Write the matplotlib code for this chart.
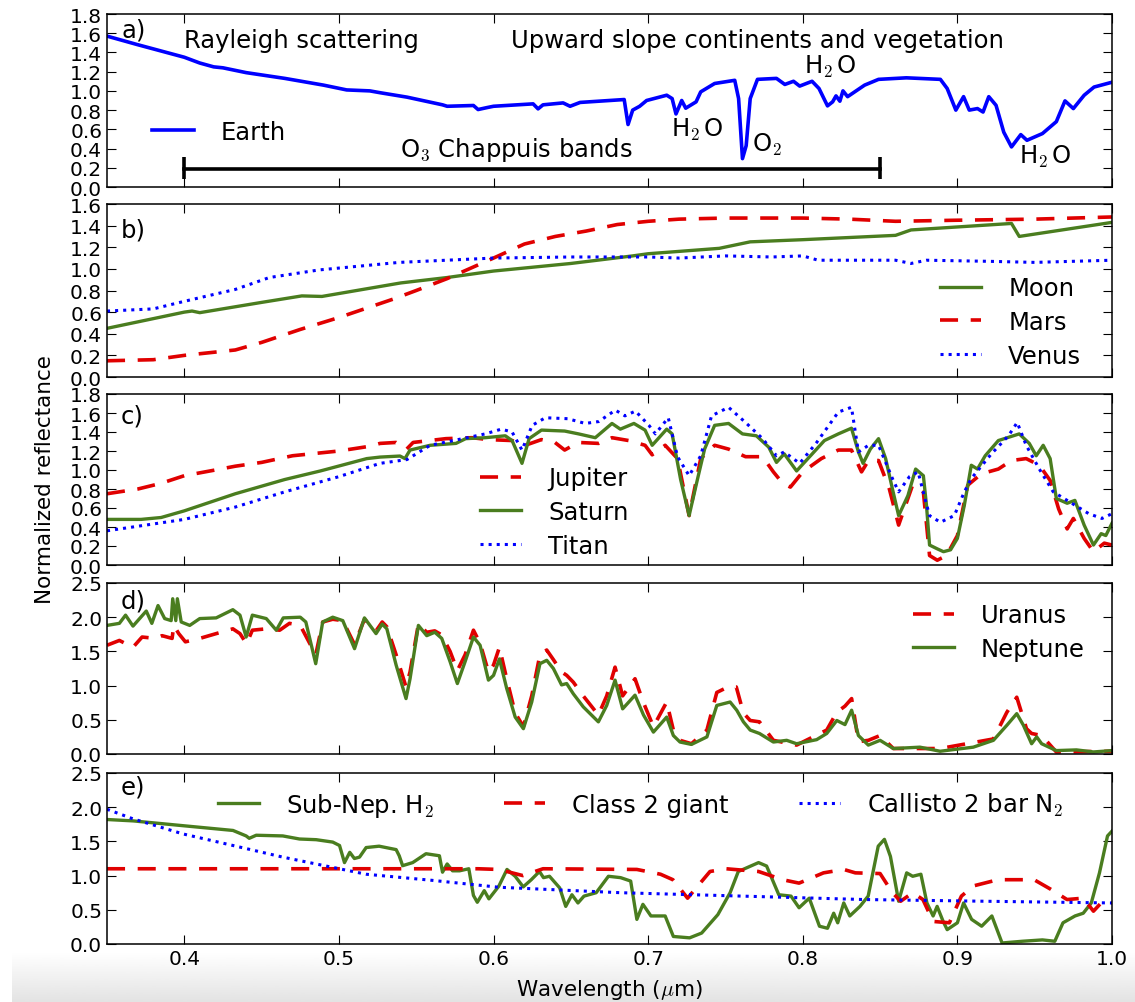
import matplotlib
matplotlib.use('Agg')
import matplotlib.pyplot as plt
import numpy as np

plt.rcParams['font.family'] = ['DejaVu Sans']
plt.rcParams['mathtext.fontset'] = 'cm'
plt.rcParams['xtick.direction'] = 'in'
plt.rcParams['ytick.direction'] = 'in'
plt.rcParams['xtick.top'] = True
plt.rcParams['ytick.right'] = True
plt.rcParams['xtick.major.size'] = 6.5
plt.rcParams['ytick.major.size'] = 6.5
plt.rcParams['xtick.labelsize'] = 14.5
plt.rcParams['ytick.labelsize'] = 14.5
plt.rcParams['axes.linewidth'] = 1.1

BLUE = '#0000ff'
RED = '#e00000'
GREEN = '#4a7d1f'
TXT = 17.5

# ---- a) Earth ----
wl_earth = [0.35, 0.37, 0.40, 0.41, 0.419, 0.425, 0.44, 0.465, 0.49, 0.505, 0.52, 0.527,
            0.544, 0.567, 0.570, 0.587, 0.590, 0.596, 0.600, 0.6256, 0.6288, 0.632, 0.645,
            0.6495, 0.656, 0.6845, 0.687, 0.690, 0.6945, 0.699, 0.712, 0.7155, 0.718,
            0.7217, 0.7243, 0.731, 0.734, 0.743, 0.756, 0.7585, 0.761, 0.7634, 0.766,
            0.7707, 0.783, 0.7884, 0.794, 0.798, 0.806, 0.8105, 0.816, 0.8193, 0.8215,
            0.824, 0.826, 0.829, 0.840, 0.849, 0.867, 0.889, 0.8934, 0.899, 0.904, 0.9077,
            0.913, 0.9166, 0.9203, 0.925, 0.930, 0.935, 0.941, 0.945, 0.955, 0.964, 0.9696,
            0.975, 0.982, 0.9884, 1.0]
refl_earth = [1.57, 1.48, 1.35, 1.29, 1.25, 1.24, 1.19, 1.13, 1.06, 1.01, 1.00, 0.98,
              0.935, 0.855, 0.84, 0.848, 0.806, 0.827, 0.84, 0.865, 0.813, 0.855, 0.875,
              0.84, 0.88, 0.91, 0.65, 0.80, 0.84, 0.90, 0.955, 0.92, 0.76,
              0.90, 0.82, 0.886, 0.99, 1.077, 1.11, 0.92, 0.295, 0.43, 0.92,
              1.12, 1.13, 1.067, 1.10, 1.05, 1.10, 1.025, 0.844, 0.886, 0.948,
              0.893, 1.0, 0.94, 1.06, 1.12, 1.136, 1.12, 1.025, 0.80, 0.94, 0.80,
              0.816, 0.78, 0.94, 0.85, 0.57, 0.417, 0.545, 0.486, 0.556, 0.68, 0.896,
              0.816, 0.955, 1.04, 1.09]
chappuis_range = [0.40, 0.85]
chappuis_level = 0.19

# ---- b) Moon, Mars, Venus ----
wl_moon = [0.35, 0.40, 0.405, 0.41, 0.45, 0.476, 0.489, 0.54, 0.57, 0.60, 0.65, 0.69,
           0.70, 0.746, 0.766, 0.80, 0.86, 0.87, 0.935, 0.94, 1.0]
refl_moon = [0.45, 0.60, 0.61, 0.595, 0.69, 0.75, 0.745, 0.87, 0.92, 0.98, 1.05, 1.12,
             1.14, 1.19, 1.25, 1.27, 1.31, 1.36, 1.42, 1.30, 1.43]
wl_mars = [0.35, 0.38, 0.40, 0.433, 0.45, 0.475, 0.50, 0.535, 0.55, 0.57, 0.60, 0.62,
           0.64, 0.66, 0.68, 0.70, 0.72, 0.75, 0.80, 0.83, 0.86, 0.90, 0.95, 1.0]
refl_mars = [0.15, 0.16, 0.20, 0.25, 0.32, 0.44, 0.55, 0.72, 0.80, 0.91, 1.10, 1.23,
             1.30, 1.35, 1.41, 1.44, 1.46, 1.47, 1.47, 1.46, 1.44, 1.45, 1.46, 1.48]
wl_venus = [0.35, 0.38, 0.40, 0.433, 0.455, 0.487, 0.539, 0.60, 0.65, 0.70, 0.72, 0.75,
            0.78, 0.80, 0.81, 0.84, 0.86, 0.87, 0.88, 0.92, 0.95, 1.0]
refl_venus = [0.61, 0.63, 0.70, 0.81, 0.92, 0.99, 1.06, 1.10, 1.11, 1.11, 1.10, 1.12,
              1.11, 1.12, 1.08, 1.08, 1.08, 1.05, 1.08, 1.07, 1.06, 1.08]

# ---- c) Jupiter, Saturn, Titan ----
wl_jupiter = [0.35, 0.37, 0.385, 0.40, 0.42, 0.433, 0.45, 0.47, 0.50, 0.52, 0.5266, 0.537,
              0.5438, 0.548, 0.5692, 0.586, 0.5967, 0.612, 0.6205, 0.631, 0.6397, 0.646,
              0.6548, 0.668, 0.6766, 0.6874, 0.698, 0.7026, 0.711, 0.719, 0.7265, 0.734,
              0.743, 0.752, 0.763, 0.774, 0.781, 0.787, 0.792, 0.800, 0.812, 0.823, 0.8315,
              0.838, 0.8425, 0.849, 0.856, 0.862, 0.871, 0.878, 0.882, 0.887, 0.893, 0.900,
              0.9067, 0.9155, 0.9265, 0.935, 0.9445, 0.953, 0.960, 0.9655, 0.971, 0.975,
              0.982, 0.988, 0.995, 1.0]
refl_jupiter = [0.75, 0.80, 0.86, 0.94, 1.00, 1.04, 1.08, 1.15, 1.20, 1.25, 1.28, 1.29,
                1.22, 1.29, 1.33, 1.34, 1.32, 1.31, 1.26, 1.32, 1.29, 1.21,
                1.29, 1.28, 1.34, 1.31, 1.26, 1.16, 1.26, 1.12, 0.52, 1.12,
                1.26, 1.22, 1.14, 1.14, 0.98, 0.86, 0.82, 0.98, 1.12, 1.21, 1.21,
                0.98, 1.10, 1.10, 0.80, 0.42, 0.84, 0.77, 0.10, 0.05, 0.10, 0.31,
                0.84, 0.96, 1.01, 1.10, 1.12, 1.05, 0.89, 0.59, 0.38, 0.49,
                0.28, 0.14, 0.23, 0.21]
wl_saturn = [0.35, 0.372, 0.385, 0.40, 0.433, 0.465, 0.488, 0.518, 0.5266, 0.5395, 0.5427,
             0.546, 0.559, 0.5757, 0.582, 0.5946, 0.6076, 0.612, 0.6184, 0.623, 0.631,
             0.646, 0.655, 0.6658, 0.6766, 0.682, 0.6908, 0.698, 0.7026, 0.712, 0.7155,
             0.721, 0.7265, 0.732, 0.7365, 0.743, 0.752, 0.761, 0.770, 0.778, 0.783,
             0.788, 0.796, 0.805, 0.814, 0.823, 0.8315, 0.836, 0.839, 0.8437, 0.849,
             0.8536, 0.858, 0.862, 0.868, 0.873, 0.878, 0.880, 0.882, 0.887, 0.891,
             0.8956, 0.900, 0.9045, 0.909, 0.913, 0.918, 0.9265, 0.940, 0.9465, 0.951,
             0.9555, 0.960, 0.964, 0.971, 0.976, 0.982, 0.988, 0.993, 0.996, 1.0]
refl_saturn = [0.48, 0.48, 0.50, 0.57, 0.75, 0.90, 0.99, 1.12, 1.136, 1.147, 1.12,
               1.21, 1.26, 1.28, 1.33, 1.34, 1.36, 1.31, 1.07, 1.33, 1.42,
               1.41, 1.38, 1.34, 1.49, 1.43, 1.49, 1.42, 1.26, 1.43, 1.38,
               0.90, 0.52, 0.91, 1.22, 1.47, 1.49, 1.38, 1.36, 1.24, 1.08,
               1.17, 0.99, 1.15, 1.31, 1.38, 1.44, 1.19, 1.07, 1.22, 1.33,
               1.12, 0.80, 0.52, 0.73, 1.01, 0.94, 0.63, 0.21, 0.17, 0.14,
               0.16, 0.28, 0.63, 1.05, 1.01, 1.15, 1.31, 1.38, 1.28, 1.15,
               1.26, 1.12, 0.70, 0.65, 0.68, 0.42, 0.21, 0.33, 0.31, 0.44]
wl_titan = [0.35, 0.40, 0.433, 0.465, 0.50, 0.5266, 0.544, 0.559, 0.58, 0.5946, 0.605,
            0.612, 0.6184, 0.625, 0.6335, 0.648, 0.6593, 0.668, 0.6788, 0.685, 0.6918,
            0.7005, 0.7047, 0.713, 0.719, 0.7265, 0.734, 0.741, 0.752, 0.763, 0.774,
            0.783, 0.788, 0.798, 0.809, 0.823, 0.8315, 0.836, 0.8425, 0.849, 0.858,
            0.862, 0.869, 0.8746, 0.879, 0.882, 0.889, 0.898, 0.9045, 0.909, 0.922,
            0.933, 0.9387, 0.9445, 0.953, 0.962, 0.973, 0.985, 0.9935, 1.0]
refl_titan = [0.36, 0.48, 0.61, 0.77, 0.93, 1.07, 1.11, 1.26, 1.33, 1.38, 1.43,
              1.40, 1.21, 1.47, 1.55, 1.54, 1.49, 1.51, 1.63, 1.57, 1.62,
              1.47, 1.38, 1.55, 1.14, 0.94, 1.15, 1.57, 1.66, 1.50, 1.33,
              1.15, 1.19, 1.07, 1.29, 1.61, 1.66, 1.19, 1.26, 1.26, 0.91,
              0.77, 0.93, 0.98, 0.70, 0.52, 0.45, 0.52, 0.77, 0.91, 1.17,
              1.36, 1.50, 1.26, 1.01, 0.77, 0.66, 0.54, 0.49, 0.54]

# ---- d) Uranus, Neptune ----
wl_neptune = [0.35, 0.358, 0.362, 0.3668, 0.3754, 0.379, 0.383, 0.3873, 0.3915, 0.3925,
              0.3945, 0.3955, 0.398, 0.4035, 0.410, 0.4206, 0.4314, 0.436, 0.440, 0.444,
              0.453, 0.4595, 0.464, 0.475, 0.4786, 0.485, 0.4895, 0.496, 0.5025, 0.5101,
              0.5165, 0.524, 0.528, 0.531, 0.537, 0.5434, 0.546, 0.5514, 0.5568, 0.562,
              0.5665, 0.5719, 0.5766, 0.5816, 0.5870, 0.5913, 0.5967, 0.600, 0.6038,
              0.6085, 0.614, 0.6193, 0.6247, 0.630, 0.6344, 0.6387, 0.644, 0.6473, 0.6516,
              0.658, 0.6678, 0.6732, 0.6786, 0.6835, 0.6915, 0.697, 0.7034, 0.712, 0.7163,
              0.7206, 0.728, 0.738, 0.7444, 0.753, 0.7573, 0.7616, 0.766, 0.772, 0.781,
              0.7896, 0.796, 0.809, 0.8155, 0.822, 0.8273, 0.8316, 0.836, 0.8424, 0.850,
              0.8586, 0.8758, 0.8888, 0.9103, 0.9233, 0.932, 0.9384, 0.9427, 0.948, 0.9513,
              0.9545, 0.964, 0.977, 0.988, 1.0]
refl_neptune = [1.88, 1.91, 2.03, 1.87, 2.09, 1.91, 2.17, 1.98, 1.95, 2.27,
                1.95, 2.27, 1.93, 1.88, 1.98, 1.99, 2.11, 2.03, 1.71, 2.03,
                1.98, 1.81, 1.99, 2.00, 1.93, 1.32, 1.93, 2.00, 1.95, 1.54,
                1.99, 1.76, 1.90, 1.83, 1.30, 0.81, 1.10, 1.88, 1.73, 1.78,
                1.69, 1.35, 1.03, 1.35, 1.71, 1.59, 1.08, 1.15, 1.39,
                0.96, 0.54, 0.37, 0.76, 1.32, 1.37, 1.25, 1.01, 1.03, 0.88,
                0.69, 0.47, 0.71, 1.08, 0.66, 0.86, 0.57, 0.32, 0.54, 0.27,
                0.175, 0.14, 0.25, 0.71, 0.76, 0.64, 0.47, 0.35, 0.30, 0.175,
                0.20, 0.15, 0.21, 0.30, 0.49, 0.43, 0.64, 0.27, 0.13, 0.20,
                0.08, 0.10, 0.04, 0.10, 0.20, 0.42, 0.59, 0.42, 0.15, 0.25,
                0.15, 0.05, 0.06, 0.03, 0.05]
wl_uranus = [0.35, 0.358, 0.3668, 0.3727, 0.3813, 0.3856, 0.3921, 0.3932, 0.3964, 0.4007,
             0.410, 0.4206, 0.4314, 0.436, 0.4403, 0.444, 0.453, 0.4617, 0.468, 0.475,
             0.485, 0.4895, 0.496, 0.5025, 0.5101, 0.5165, 0.524, 0.528, 0.531, 0.537,
             0.5434, 0.546, 0.5514, 0.5568, 0.562, 0.5665, 0.5719, 0.5766, 0.5816, 0.5870,
             0.5913, 0.5967, 0.600, 0.6038, 0.6085, 0.614, 0.6193, 0.6247, 0.630, 0.6344,
             0.6387, 0.644, 0.6473, 0.6516, 0.658, 0.6678, 0.6732, 0.6786, 0.6835, 0.6915,
             0.697, 0.7034, 0.712, 0.7163, 0.7206, 0.728, 0.738, 0.7444, 0.7516, 0.757,
             0.7616, 0.766, 0.772, 0.781, 0.796, 0.8155, 0.822, 0.8273, 0.8316, 0.836,
             0.8424, 0.850, 0.8586, 0.8888, 0.9233, 0.932, 0.9384, 0.9447, 0.948, 0.9545,
             0.964, 1.0]
refl_uranus = [1.59, 1.66, 1.56, 1.71, 1.69, 1.73, 1.69, 1.88, 1.76, 1.64,
               1.69, 1.76, 1.83, 1.76, 1.61, 1.81, 1.83, 1.81, 1.91, 1.88,
               1.45, 1.93, 1.97, 1.95, 1.60, 1.97, 1.80, 1.93, 1.86, 1.45,
               0.98, 1.20, 1.90, 1.78, 1.80, 1.74, 1.50, 1.22, 1.45, 1.81,
               1.62, 1.20, 1.30, 1.56, 1.10, 0.60, 0.40, 0.85, 1.45, 1.52,
               1.38, 1.20, 1.15, 1.05, 0.85, 0.57, 0.85, 1.27, 0.85, 1.10,
               0.75, 0.40, 0.76, 0.35, 0.20, 0.15, 0.35, 0.90, 0.98, 0.98,
               0.60, 0.49, 0.47, 0.20, 0.13, 0.35, 0.61, 0.70, 0.81, 0.18,
               0.20, 0.27, 0.08, 0.08, 0.22, 0.61, 0.83, 0.37, 0.30, 0.27,
               0.03, 0.04]

# ---- e) model spectra ----
wl_subnep = [0.35, 0.3668, 0.399, 0.4315, 0.440, 0.442, 0.4465, 0.4637, 0.4745, 0.4853,
             0.496, 0.5004, 0.5036, 0.507, 0.510, 0.5133, 0.5176, 0.526, 0.537, 0.539,
             0.5412, 0.5477, 0.5563, 0.565, 0.567, 0.570, 0.5735, 0.578, 0.584, 0.587,
             0.5895, 0.594, 0.597, 0.6034, 0.6087, 0.614, 0.6192, 0.6244, 0.6297, 0.6323,
             0.6362, 0.6428, 0.6467, 0.6507, 0.6546, 0.6585, 0.6664, 0.6743, 0.6822,
             0.6887, 0.6927, 0.6966, 0.7018, 0.711, 0.7163, 0.7268, 0.7346, 0.7451, 0.753,
             0.7583, 0.7714, 0.7766, 0.7845, 0.7924, 0.7976, 0.8042, 0.8108, 0.816, 0.820,
             0.8226, 0.8265, 0.8304, 0.837, 0.8423, 0.8488, 0.8528, 0.8567, 0.862, 0.8672,
             0.8711, 0.8764, 0.8803, 0.8843, 0.8869, 0.8908, 0.8934, 0.900, 0.904, 0.9092,
             0.9157, 0.9223, 0.9289, 0.942, 0.955, 0.963, 0.9683, 0.9761, 0.9814, 0.9866,
             0.9919, 0.9971, 1.0]
refl_subnep = [1.82, 1.80, 1.73, 1.66, 1.58, 1.545, 1.59, 1.58, 1.535, 1.525,
               1.49, 1.44, 1.19, 1.34, 1.25, 1.27, 1.41, 1.43, 1.38, 1.29,
               1.145, 1.19, 1.32, 1.29, 1.05, 1.17, 1.07, 1.07, 1.10, 0.71,
               0.61, 0.78, 0.66, 0.845, 1.09, 0.99, 0.835, 0.94, 1.06, 0.97,
               0.99, 0.82, 0.55, 0.72, 0.60, 0.70, 0.75, 0.99, 0.97,
               0.92, 0.36, 0.58, 0.41, 0.41, 0.11, 0.09, 0.16, 0.43, 0.75,
               1.06, 1.19, 1.14, 0.72, 0.70, 0.53, 0.67, 0.26, 0.23, 0.45,
               0.31, 0.60, 0.41, 0.55, 0.70, 1.43, 1.53, 1.28, 0.625, 1.04,
               0.99, 1.02, 0.60, 0.41, 0.55, 0.33, 0.21, 0.31, 0.60, 0.36,
               0.26, 0.41, 0.015, 0.04, 0.06, 0.04, 0.31, 0.41, 0.45, 0.60,
               1.04, 1.58, 1.65]
wl_class2 = [0.35, 0.59, 0.6034, 0.619, 0.632, 0.6927, 0.708, 0.716, 0.7255, 0.74, 0.7504,
             0.7714, 0.787, 0.7976, 0.8134, 0.8265, 0.834, 0.850, 0.858, 0.8633, 0.8711,
             0.8777, 0.8843, 0.8948, 0.9026, 0.9105, 0.9262, 0.9496, 0.9604, 0.9709,
             0.9814, 0.988, 0.994, 1.0]
refl_class2 = [1.10, 1.10, 1.09, 1.00, 1.10, 1.09, 1.02, 0.94, 0.67, 1.06, 1.10,
               1.06, 0.94, 0.89, 1.04, 1.09, 1.04, 1.03, 0.75, 0.625, 0.75,
               0.65, 0.33, 0.31, 0.70, 0.85, 0.94, 0.94, 0.80, 0.65,
               0.67, 0.48, 0.625, 0.60]
wl_callisto = [0.35, 0.3668, 0.38, 0.399, 0.4315, 0.4637, 0.496, 0.5176, 0.5606, 0.6033,
               0.682, 0.761, 0.84, 0.918, 1.0]
refl_callisto = [1.97, 1.83, 1.74, 1.61, 1.44, 1.27, 1.12, 1.02, 0.93, 0.83,
                 0.75, 0.70, 0.65, 0.625, 0.60]

y_limits = [1.8, 1.6, 1.8, 2.5, 2.5]
y_steps = [0.2, 0.2, 0.2, 0.5, 0.5]
panel_tags = ['a)', 'b)', 'c)', 'd)', 'e)']


def main():
    fig = plt.figure(figsize=(11.35, 10.03), dpi=100)

    # faint grey shading along the bottom edge
    shade = fig.add_axes([12 / 1135, 0, 1 - 12 / 1135, 50 / 1003], zorder=-1)
    shade.imshow(np.linspace(1.0, 0.89, 100).reshape(-1, 1), aspect='auto', cmap='gray',
                 vmin=0, vmax=1, extent=[0, 1, 0, 1])
    shade.axis('off')

    left, width = 107 / 1135, 1005 / 1135
    tops = [15, 205, 395, 584, 774]
    bottoms = [188, 378, 566, 755, 945]
    axes = []
    for t, b in zip(tops, bottoms):
        ax = fig.add_axes([left, 1 - b / 1003, width, (b - t) / 1003])
        axes.append(ax)

    tag_y = [0.91, 0.855, 0.875, 0.90, 0.92]
    for i, ax in enumerate(axes):
        ax.set_xlim(0.35, 1.0)
        ax.set_ylim(0, y_limits[i])
        ax.set_yticks(np.arange(0, y_limits[i] + 1e-6, y_steps[i]))
        ax.set_xticks(np.arange(0.4, 1.01, 0.1))
        ax.yaxis.set_major_formatter(plt.FormatStrFormatter('%.1f'))
        ax.xaxis.set_major_formatter(plt.FormatStrFormatter('%.1f'))
        if i < 4:
            ax.tick_params(labelbottom=False)
        ax.text(0.014, tag_y[i], panel_tags[i], transform=ax.transAxes,
                fontsize=TXT, va='center', ha='left')

    leg_kw = dict(frameon=False, fontsize=TXT, handlelength=1.7, handletextpad=1.1,
                  borderpad=0, borderaxespad=0, labelspacing=0.4)

    # a) Earth
    ax = axes[0]
    ax.plot(wl_earth, refl_earth, color=BLUE, lw=2.6, label='Earth')
    ax.plot(chappuis_range, [chappuis_level] * 2, color='k', lw=2.6)
    ax.vlines(chappuis_range, chappuis_level - 0.11, chappuis_level + 0.12, color='k', lw=2.6)
    ax.text(0.40, 1.53, 'Rayleigh scattering', fontsize=TXT, va='center')
    ax.text(0.611, 1.53, 'Upward slope continents and vegetation', fontsize=TXT, va='center')
    ax.text(0.818, 1.26, r'H$_2\,$O', fontsize=TXT, ha='center', va='center')
    ax.text(0.7316, 0.60, r'H$_2\,$O', fontsize=TXT, ha='center', va='center')
    ax.text(0.767, 0.45, 'O$_2$', fontsize=TXT, ha='left', va='center')
    ax.text(0.957, 0.32, r'H$_2\,$O', fontsize=TXT, ha='center', va='center')
    ax.text(0.615, 0.40, 'O$_3$ Chappuis bands', fontsize=TXT, ha='center', va='center')
    ax.legend(loc='center left', bbox_to_anchor=(0.045, 0.318), **leg_kw)

    # b) Moon, Mars, Venus
    ax = axes[1]
    ax.plot(wl_moon, refl_moon, color=GREEN, lw=2.4, label='Moon')
    ax.plot(wl_mars, refl_mars, color=RED, lw=2.6, ls='--', dashes=(5, 3.5), label='Mars')
    ax.plot(wl_venus, refl_venus, color=BLUE, lw=2.2, ls=':', label='Venus')
    ax.legend(loc='center left', bbox_to_anchor=(0.829, 0.318), **leg_kw)

    # c) Jupiter, Saturn, Titan
    ax = axes[2]
    ax.plot(wl_jupiter, refl_jupiter, color=RED, lw=2.6, ls='--', dashes=(5, 3.5), label='Jupiter')
    ax.plot(wl_saturn, refl_saturn, color=GREEN, lw=2.4, label='Saturn')
    ax.plot(wl_titan, refl_titan, color=BLUE, lw=2.2, ls=':', label='Titan')
    ax.legend(loc='center left', bbox_to_anchor=(0.371, 0.31), **leg_kw)

    # d) Uranus, Neptune
    ax = axes[3]
    ax.plot(wl_uranus, refl_uranus, color=RED, lw=2.6, ls='--', dashes=(5, 3.5), label='Uranus')
    ax.plot(wl_neptune, refl_neptune, color=GREEN, lw=2.4, label='Neptune')
    ax.legend(loc='center left', bbox_to_anchor=(0.802, 0.713), **leg_kw)

    # e) model atmospheres
    ax = axes[4]
    ax.plot(wl_subnep, refl_subnep, color=GREEN, lw=2.4, label='Sub-Nep. H$_2$')
    ax.plot(wl_class2, refl_class2, color=RED, lw=2.6, ls='--', dashes=(5, 3.5), label='Class 2 giant')
    ax.plot(wl_callisto, refl_callisto, color=BLUE, lw=2.2, ls=':', label='Callisto 2 bar N$_2$')
    ax.legend(loc='center left', bbox_to_anchor=(0.110, 0.813), ncol=3, columnspacing=2.9, **leg_kw)

    fig.text(0.0396, 0.522, 'Normalized reflectance', rotation=90, fontsize=15.5,
             ha='center', va='center')
    fig.text(0.537, 0.013, 'Wavelength ($\\mu$m)', fontsize=15.5, ha='center', va='center')

    fig.savefig('out.png', dpi=100)


if __name__ == '__main__':
    main()
